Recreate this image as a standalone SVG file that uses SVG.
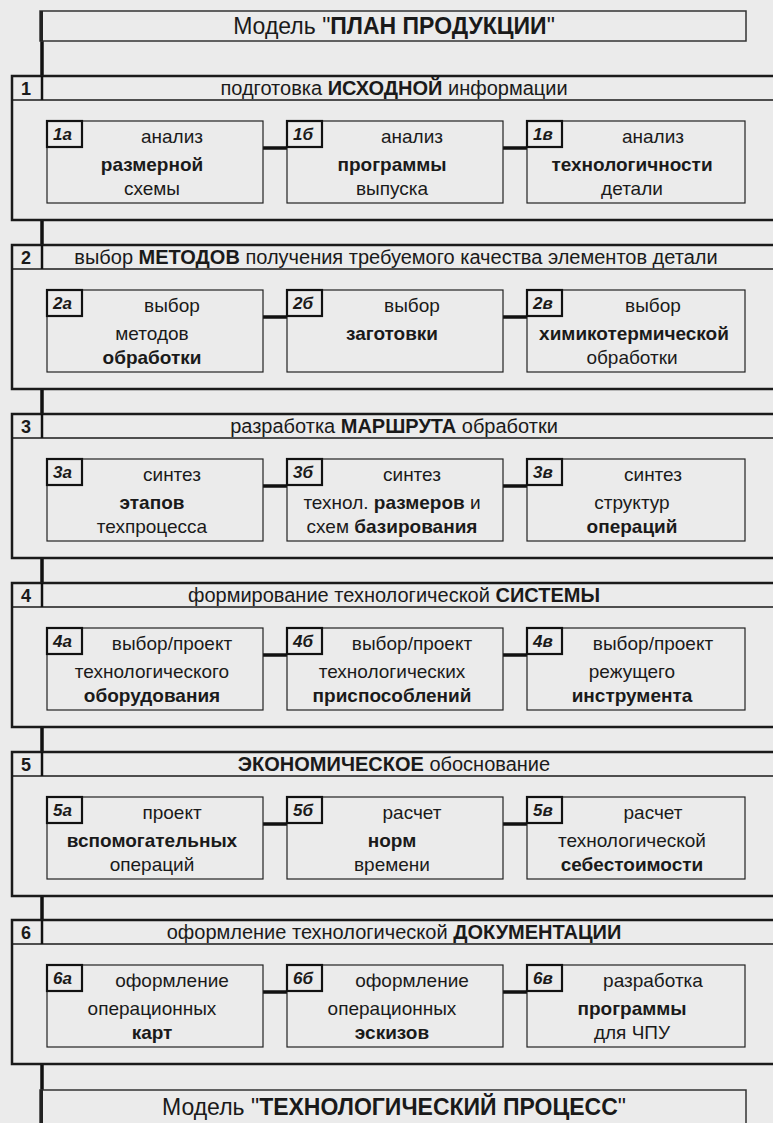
<svg xmlns="http://www.w3.org/2000/svg" width="773" height="1123" viewBox="0 0 773 1123">
<style>
text{font-family:"Liberation Sans",Arial,sans-serif;fill:#1a1a1a}
.t{font-size:23px;text-anchor:middle}
.h{font-size:20px;text-anchor:middle}
.n{font-size:18px;font-weight:bold}
.b{font-size:19px;text-anchor:middle}
.k{font-weight:bold}
.lab{font-size:17px;font-weight:bold;font-style:italic}
.sec{fill:none;stroke:#1a1a1a;stroke-width:2.5}
.hl{stroke:#1a1a1a;stroke-width:1.5}
.box{fill:none;stroke:#222;stroke-width:1.2}
.cell{fill:none;stroke:#111;stroke-width:2.2}
.mod{fill:none;stroke:#333;stroke-width:1.5}
.con{stroke:#111;stroke-width:3.5;fill:none}
</style>
<rect width="773" height="1123" fill="#ebebeb"/>

<g id="connectors">
<path class="con" d="M42 41V76M42 220V245M42 389V414M42 558V583M42 727V752M42 896V920M42 1064V1090"/>
<path class="con" d="M263 148H287M503 148H527M263 317H287M503 317H527M263 486H287M503 486H527M263 655H287M503 655H527M263 824H287M503 824H527M263 992H287M503 992H527"/>
</g>

<g id="model-plan">
<rect class="mod" x="40" y="11" width="706" height="30"/>
<line x1="41.5" y1="11" x2="41.5" y2="41" stroke="#222" stroke-width="3"/>
<text class="t" x="394" y="34">Модель "<tspan class="k">ПЛАН ПРОДУКЦИИ</tspan>"</text>
</g>

<g id="section-1">
<rect class="sec" x="12" y="76" width="775" height="144"/>
<line class="hl" x1="12" y1="100" x2="773" y2="100"/>
<line x1="42" y1="76" x2="42" y2="100" stroke="#111" stroke-width="2.5"/>
<text class="n" x="21" y="95">1</text>
<text class="h" x="394" y="95">подготовка <tspan class="k">ИСХОДНОЙ</tspan> информации</text>
</g>
<g id="box-1a"><rect class="box" x="47" y="121" width="216" height="82"/><rect class="cell" x="47" y="121" width="35" height="26"/><text class="lab" x="53" y="140">1а</text>
<text class="b" x="172" y="143">анализ</text><text class="b k" x="152" y="171">размерной</text><text class="b" x="152" y="195">схемы</text></g>
<g id="box-1b"><rect class="box" x="287" y="121" width="216" height="82"/><rect class="cell" x="287" y="121" width="35" height="26"/><text class="lab" x="293" y="140">1б</text>
<text class="b" x="412" y="143">анализ</text><text class="b k" x="392" y="171">программы</text><text class="b" x="392" y="195">выпуска</text></g>
<g id="box-1v"><rect class="box" x="527" y="121" width="218" height="82"/><rect class="cell" x="527" y="121" width="35" height="26"/><text class="lab" x="533" y="140">1в</text>
<text class="b" x="653" y="143">анализ</text><text class="b k" x="632" y="171">технологичности</text><text class="b" x="632" y="195">детали</text></g>

<g id="section-2">
<rect class="sec" x="12" y="245" width="775" height="144"/>
<line class="hl" x1="12" y1="269" x2="773" y2="269"/>
<line x1="42" y1="245" x2="42" y2="269" stroke="#111" stroke-width="2.5"/>
<text class="n" x="21" y="264">2</text>
<text class="h" x="396" y="264">выбор <tspan class="k">МЕТОДОВ</tspan> получения требуемого качества элементов детали</text>
</g>
<g id="box-2a"><rect class="box" x="47" y="290" width="216" height="82"/><rect class="cell" x="47" y="290" width="35" height="26"/><text class="lab" x="53" y="309">2а</text>
<text class="b" x="172" y="312">выбор</text><text class="b" x="152" y="340">методов</text><text class="b k" x="152" y="364">обработки</text></g>
<g id="box-2b"><rect class="box" x="287" y="290" width="216" height="82"/><rect class="cell" x="287" y="290" width="35" height="26"/><text class="lab" x="293" y="309">2б</text>
<text class="b" x="412" y="312">выбор</text><text class="b k" x="392" y="340">заготовки</text></g>
<g id="box-2v"><rect class="box" x="527" y="290" width="218" height="82"/><rect class="cell" x="527" y="290" width="35" height="26"/><text class="lab" x="533" y="309">2в</text>
<text class="b" x="653" y="312">выбор</text><text class="b k" x="634" y="340">химикотермической</text><text class="b" x="632" y="364">обработки</text></g>

<g id="section-3">
<rect class="sec" x="12" y="414" width="775" height="144"/>
<line class="hl" x1="12" y1="438" x2="773" y2="438"/>
<line x1="42" y1="414" x2="42" y2="438" stroke="#111" stroke-width="2.5"/>
<text class="n" x="21" y="433">3</text>
<text class="h" x="394" y="433">разработка <tspan class="k">МАРШРУТА</tspan> обработки</text>
</g>
<g id="box-3a"><rect class="box" x="47" y="459" width="216" height="82"/><rect class="cell" x="47" y="459" width="35" height="26"/><text class="lab" x="53" y="478">3а</text>
<text class="b" x="172" y="481">синтез</text><text class="b k" x="152" y="509">этапов</text><text class="b" x="152" y="533">техпроцесса</text></g>
<g id="box-3b"><rect class="box" x="287" y="459" width="216" height="82"/><rect class="cell" x="287" y="459" width="35" height="26"/><text class="lab" x="293" y="478">3б</text>
<text class="b" x="412" y="481">синтез</text><text class="b" x="392" y="509">технол. <tspan class="k">размеров</tspan> и</text><text class="b" x="392" y="533">схем <tspan class="k">базирования</tspan></text></g>
<g id="box-3v"><rect class="box" x="527" y="459" width="218" height="82"/><rect class="cell" x="527" y="459" width="35" height="26"/><text class="lab" x="533" y="478">3в</text>
<text class="b" x="653" y="481">синтез</text><text class="b" x="632" y="509">структур</text><text class="b k" x="632" y="533">операций</text></g>

<g id="section-4">
<rect class="sec" x="12" y="583" width="775" height="144"/>
<line class="hl" x1="12" y1="607" x2="773" y2="607"/>
<line x1="42" y1="583" x2="42" y2="607" stroke="#111" stroke-width="2.5"/>
<text class="n" x="21" y="602">4</text>
<text class="h" x="394" y="602">формирование технологической <tspan class="k">СИСТЕМЫ</tspan></text>
</g>
<g id="box-4a"><rect class="box" x="47" y="628" width="216" height="82"/><rect class="cell" x="47" y="628" width="35" height="26"/><text class="lab" x="53" y="647">4а</text>
<text class="b" x="172" y="650">выбор/проект</text><text class="b" x="152" y="678">технологического</text><text class="b k" x="152" y="702">оборудования</text></g>
<g id="box-4b"><rect class="box" x="287" y="628" width="216" height="82"/><rect class="cell" x="287" y="628" width="35" height="26"/><text class="lab" x="293" y="647">4б</text>
<text class="b" x="412" y="650">выбор/проект</text><text class="b" x="392" y="678">технологических</text><text class="b k" x="392" y="702">приспособлений</text></g>
<g id="box-4v"><rect class="box" x="527" y="628" width="218" height="82"/><rect class="cell" x="527" y="628" width="35" height="26"/><text class="lab" x="533" y="647">4в</text>
<text class="b" x="653" y="650">выбор/проект</text><text class="b" x="632" y="678">режущего</text><text class="b k" x="632" y="702">инструмента</text></g>

<g id="section-5">
<rect class="sec" x="12" y="752" width="775" height="144"/>
<line class="hl" x1="12" y1="776" x2="773" y2="776"/>
<line x1="42" y1="752" x2="42" y2="776" stroke="#111" stroke-width="2.5"/>
<text class="n" x="21" y="771">5</text>
<text class="h" x="394" y="771"><tspan class="k">ЭКОНОМИЧЕСКОЕ</tspan> обоснование</text>
</g>
<g id="box-5a"><rect class="box" x="47" y="797" width="216" height="82"/><rect class="cell" x="47" y="797" width="35" height="26"/><text class="lab" x="53" y="816">5а</text>
<text class="b" x="172" y="819">проект</text><text class="b k" x="152" y="847">вспомогательных</text><text class="b" x="152" y="871">операций</text></g>
<g id="box-5b"><rect class="box" x="287" y="797" width="216" height="82"/><rect class="cell" x="287" y="797" width="35" height="26"/><text class="lab" x="293" y="816">5б</text>
<text class="b" x="412" y="819">расчет</text><text class="b k" x="392" y="847">норм</text><text class="b" x="392" y="871">времени</text></g>
<g id="box-5v"><rect class="box" x="527" y="797" width="218" height="82"/><rect class="cell" x="527" y="797" width="35" height="26"/><text class="lab" x="533" y="816">5в</text>
<text class="b" x="653" y="819">расчет</text><text class="b" x="632" y="847">технологической</text><text class="b k" x="632" y="871">себестоимости</text></g>

<g id="section-6">
<rect class="sec" x="12" y="920" width="775" height="144"/>
<line class="hl" x1="12" y1="944" x2="773" y2="944"/>
<line x1="42" y1="920" x2="42" y2="944" stroke="#111" stroke-width="2.5"/>
<text class="n" x="21" y="939">6</text>
<text class="h" x="394" y="939">оформление технологической <tspan class="k">ДОКУМЕНТАЦИИ</tspan></text>
</g>
<g id="box-6a"><rect class="box" x="47" y="965" width="216" height="82"/><rect class="cell" x="47" y="965" width="35" height="26"/><text class="lab" x="53" y="984">6а</text>
<text class="b" x="172" y="987">оформление</text><text class="b" x="152" y="1015">операционных</text><text class="b k" x="152" y="1039">карт</text></g>
<g id="box-6b"><rect class="box" x="287" y="965" width="216" height="82"/><rect class="cell" x="287" y="965" width="35" height="26"/><text class="lab" x="293" y="984">6б</text>
<text class="b" x="412" y="987">оформление</text><text class="b" x="392" y="1015">операционных</text><text class="b k" x="392" y="1039">эскизов</text></g>
<g id="box-6v"><rect class="box" x="527" y="965" width="218" height="82"/><rect class="cell" x="527" y="965" width="35" height="26"/><text class="lab" x="533" y="984">6в</text>
<text class="b" x="653" y="987">разработка</text><text class="b k" x="632" y="1015">программы</text><text class="b" x="632" y="1039">для ЧПУ</text></g>

<g id="model-process">
<rect class="mod" x="40" y="1090" width="706" height="40"/>
<line x1="41.5" y1="1090" x2="41.5" y2="1123" stroke="#222" stroke-width="3"/>
<text class="t" x="394" y="1115">Модель "<tspan class="k">ТЕХНОЛОГИЧЕСКИЙ ПРОЦЕСС</tspan>"</text>
</g>
</svg>
